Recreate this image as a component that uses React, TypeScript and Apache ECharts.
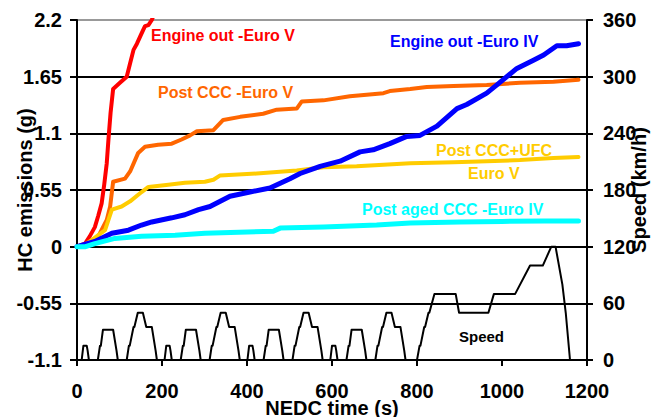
import React, { useEffect, useRef } from "react";
import * as echarts from "echarts";

const xTicks = [0, 200, 400, 600, 800, 1000, 1200];

const speedT = [
  0, 11, 15, 23, 25, 28, 49, 54, 56, 61, 85, 93, 96, 117, 122, 124, 133, 135, 143, 155, 163, 176, 185, 188,
  195, 206, 210, 218, 220, 223, 244, 249, 251, 256, 280, 288, 291, 312, 317, 319, 328, 330, 338, 350, 358, 371, 380, 383,
  390, 401, 405, 413, 415, 418, 439, 444, 446, 451, 475, 483, 486, 507, 512, 514, 523, 525, 533, 545, 553, 566, 575, 578,
  585, 596, 600, 608, 610, 613, 634, 639, 641, 646, 670, 678, 681, 702, 707, 709, 718, 720, 728, 740, 748, 761, 770, 773,
  780, 800, 806, 808, 817, 819, 827, 829, 841, 891, 899, 968, 981, 1031, 1066, 1096, 1116, 1126, 1142, 1150, 1160, 1180,
];
const speedV = [
  0, 0, 15, 15, 10, 0, 0, 15, 15, 32, 32, 10, 0, 0, 15, 15, 35, 35, 50, 50, 35, 35, 10, 0,
  0, 0, 15, 15, 10, 0, 0, 15, 15, 32, 32, 10, 0, 0, 15, 15, 35, 35, 50, 50, 35, 35, 10, 0,
  0, 0, 15, 15, 10, 0, 0, 15, 15, 32, 32, 10, 0, 0, 15, 15, 35, 35, 50, 50, 35, 35, 10, 0,
  0, 0, 15, 15, 10, 0, 0, 15, 15, 32, 32, 10, 0, 0, 15, 15, 35, 35, 50, 50, 35, 35, 10, 0,
  0, 0, 15, 15, 35, 35, 50, 50, 70, 70, 50, 50, 70, 70, 100, 100, 120, 120, 80, 50, 0, 0,
];

const redT = [0, 19, 30, 42, 50, 58, 64, 70, 74, 79, 85, 101, 117, 125, 133, 141, 152, 160, 168, 176, 185];
const redV = [0, 0.03, 0.1, 0.19, 0.3, 0.42, 0.6, 0.81, 1.04, 1.3, 1.53, 1.59, 1.65, 1.78, 1.91, 1.97, 2.07, 2.14, 2.15, 2.2, 2.3];

const orangeT = [0, 19, 27, 50, 70, 78, 85, 113, 125, 144, 160, 191, 223, 246, 266, 282, 321, 344, 384, 438, 470, 517, 529, 580, 642, 721, 736, 784, 823, 886, 964, 1042, 1121, 1180];
const orangeV = [0, 0.02, 0.03, 0.1, 0.26, 0.39, 0.63, 0.66, 0.73, 0.91, 0.97, 0.99, 1.0, 1.04, 1.08, 1.12, 1.13, 1.23, 1.26, 1.29, 1.33, 1.34, 1.41, 1.42, 1.46, 1.49, 1.51, 1.53, 1.55, 1.56, 1.57, 1.59, 1.6, 1.62];

const yellowT = [0, 19, 35, 66, 82, 105, 125, 152, 168, 215, 254, 301, 321, 336, 423, 517, 580, 658, 784, 886, 964, 1042, 1121, 1180];
const yellowV = [0, 0.02, 0.065, 0.16, 0.36, 0.39, 0.44, 0.53, 0.58, 0.6, 0.62, 0.63, 0.65, 0.69, 0.71, 0.74, 0.77, 0.78, 0.81, 0.82, 0.83, 0.84, 0.86, 0.87];

const blueT = [0, 42, 82, 121, 152, 176, 223, 254, 286, 313, 360, 407, 454, 501, 525, 572, 619, 666, 697, 736, 776, 807, 847, 894, 917, 964, 988, 1035, 1074, 1098, 1129, 1152, 1180];
const blueV = [0, 0.05, 0.13, 0.16, 0.21, 0.24, 0.28, 0.31, 0.36, 0.39, 0.49, 0.53, 0.57, 0.66, 0.71, 0.78, 0.83, 0.92, 0.94, 1.0, 1.07, 1.08, 1.17, 1.34, 1.38, 1.49, 1.57, 1.73, 1.81, 1.86, 1.95, 1.95, 1.97];

const cyanT = [0, 20, 42, 89, 152, 231, 301, 462, 478, 580, 705, 784, 900, 1000, 1100, 1180];
const cyanV = [0, 0, 0.03, 0.08, 0.1, 0.11, 0.13, 0.15, 0.18, 0.19, 0.21, 0.23, 0.24, 0.245, 0.25, 0.25];

const zip = (t: number[], v: number[]) => t.map((x, i) => [x, v[i]]);

const FONT = "Liberation Sans, Arial, sans-serif";

export default function App() {
  const ref = useRef<HTMLDivElement>(null);
  useEffect(() => {
    if (!ref.current) return;
    const chart = echarts.init(ref.current, null, { renderer: "svg" });
    const label = (text: string, x: number, y: number, fill: string, size = 16) => ({
      type: "text",
      x,
      y,
      silent: true,
      style: {
        text,
        fill,
        font: `bold ${size}px ${FONT}`,
        textAlign: "left",
        textVerticalAlign: "middle",
      },
    });
    const line = (name: string, data: number[][], color: string, width: number, yAxisIndex = 0) => ({
      name,
      type: "line",
      data,
      yAxisIndex,
      symbol: "none",
      smooth: false,
      clip: true,
      lineStyle: { color, width, join: "round", cap: "round" },
      emphasis: { disabled: true },
    });
    chart.setOption({
      animation: false,
      backgroundColor: "#ffffff",
      textStyle: { fontFamily: FONT },
      grid: { left: 77, right: 66, top: 20, bottom: 57, containLabel: false, outerBoundsMode: "none" },
      xAxis: {
        type: "value",
        min: 0,
        max: 1200,
        interval: 200,
        name: "NEDC time (s)",
        nameLocation: "middle",
        nameGap: 38,
        nameMoveOverlap: false,
        nameTextStyle: { fontSize: 20, fontWeight: "bold", color: "#000", fontFamily: FONT },
        axisLine: { show: true, onZero: false, lineStyle: { color: "#000", width: 2 } },
        axisTick: { show: true, inside: false, length: 6, lineStyle: { color: "#000", width: 2 } },
        axisLabel: {
          margin: 21,
          fontSize: 20,
          fontWeight: "bold",
          color: "#000",
          fontFamily: FONT,
          formatter: (v: number) => (xTicks.includes(v) ? String(v) : ""),
        },
        splitLine: { show: false },
      },
      yAxis: [
        {
          type: "value",
          min: -1.1,
          max: 2.2,
          interval: 0.55,
          name: "HC emissions (g)",
          nameLocation: "middle",
          nameRotate: 90,
          nameGap: 42,
          nameMoveOverlap: false,
          nameTextStyle: { fontSize: 20, fontWeight: "bold", color: "#000", fontFamily: FONT },
          axisLine: { show: true, onZero: false, lineStyle: { color: "#000", width: 2 } },
          axisTick: { show: true, inside: false, length: 7, lineStyle: { color: "#000", width: 2 } },
          axisLabel: {
            margin: 15,
            fontSize: 20,
            fontWeight: "bold",
            color: "#000",
            fontFamily: FONT,
            formatter: (v: number) => String(Math.round(v * 100) / 100),
          },
          splitLine: {
            show: true,
            lineStyle: {
              color: ["#000", "#000", "#000", "#000", "#000", "#000", "#999"],
              width: 2,
            },
          },
        },
        {
          type: "value",
          min: 0,
          max: 360,
          interval: 60,
          position: "right",
          name: "Speed (km/h)",
          nameLocation: "middle",
          nameRotate: 90,
          nameGap: 42,
          nameMoveOverlap: false,
          nameTextStyle: { fontSize: 20, fontWeight: "bold", color: "#000", fontFamily: FONT },
          axisLine: { show: true, onZero: false, lineStyle: { color: "#000", width: 2 } },
          axisTick: { show: true, inside: false, length: 6, lineStyle: { color: "#000", width: 2 } },
          axisLabel: {
            margin: 16,
            fontSize: 20,
            fontWeight: "bold",
            color: "#000",
            fontFamily: FONT,
          },
          splitLine: { show: false },
        },
      ],
      series: [
        line("Speed", zip(speedT, speedV), "#000", 2, 1),
        line("Engine out -Euro V", zip(redT, redV), "#ff0000", 4),
        line("Post CCC -Euro V", zip(orangeT, orangeV), "#ff6600", 4),
        line("Post CCC+UFC Euro V", zip(yellowT, yellowV), "#ffcc00", 4),
        line("Engine out -Euro IV", zip(blueT, blueV), "#0000ff", 5),
        line("Post aged CCC -Euro IV", zip(cyanT, cyanV), "#00ffff", 5),
      ],
      graphic: [
        label("Engine out -Euro V", 151, 35, "#ff0000"),
        label("Engine out -Euro IV", 390, 41, "#0000ff"),
        label("Post CCC -Euro V", 158, 92.5, "#ff6600"),
        label("Post CCC+UFC", 436, 150.5, "#ffcc00"),
        label("Euro V", 468, 173.5, "#ffcc00"),
        label("Post aged CCC -Euro IV", 362, 209.5, "#00ffff"),
        label("Speed", 459, 336, "#000000", 15),
      ],
    });
    return () => chart.dispose();
  }, []);
  return (
    <div
      ref={ref}
      style={{ position: "fixed", left: 0, top: 0, width: 653, height: 417, background: "#fff" }}
    />
  );
}
